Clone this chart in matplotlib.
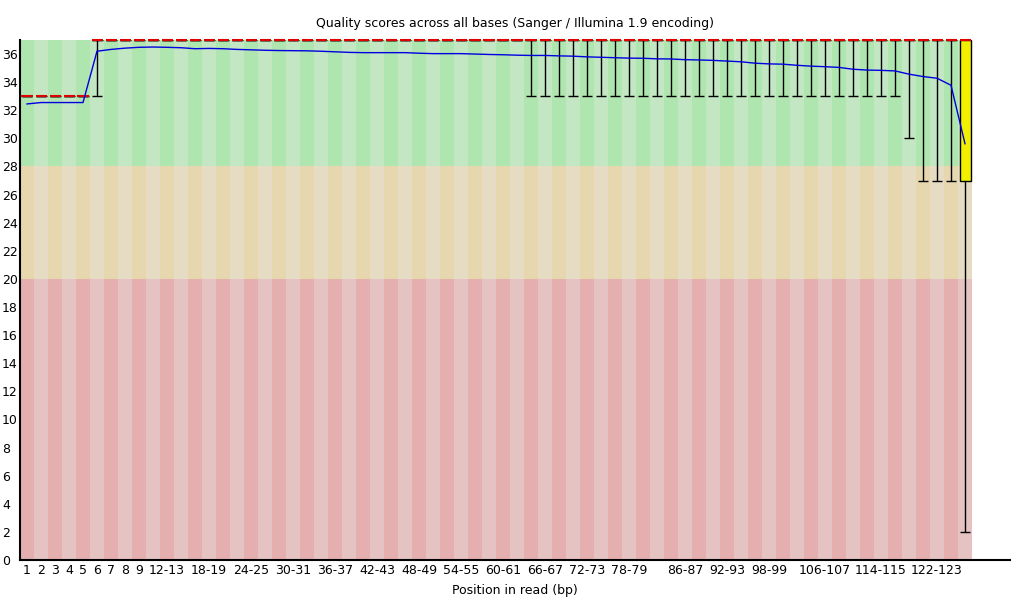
import matplotlib
matplotlib.use('Agg')
import matplotlib.pyplot as plt

positions = ['1', '2', '3', '4', '5', '6', '7', '8', '9',
             '10-11', '12-13', '14-15', '16-17', '18-19', '20-21', '22-23', '24-25',
             '26-27', '28-29', '30-31', '32-33', '34-35', '36-37', '38-39', '40-41',
             '42-43', '44-45', '46-47', '48-49', '50-51', '52-53', '54-55', '56-57',
             '58-59', '60-61', '62-63', '64-65', '66-67', '68-69', '70-71', '72-73',
             '74-75', '76-77', '78-79', '80-81', '82-83', '84-85', '86-87', '88-89',
             '90-91', '92-93', '94-95', '96-97', '98-99', '100-101', '102-103',
             '104-105', '106-107', '108-109', '110-111', '112-113', '114-115',
             '116-117', '118-119', '120-121', '122-123', '124-125', '126-127']

shown_labels = ['1', '2', '3', '4', '5', '6', '7', '8', '9', '12-13', '18-19', '24-25',
                '30-31', '36-37', '42-43', '48-49', '54-55', '60-61', '66-67', '72-73',
                '78-79', '86-87', '92-93', '98-99', '106-107', '114-115', '122-123']

mean_q = [32.45, 32.55, 32.55, 32.55, 32.55, 36.2, 36.33, 36.42, 36.48, 36.5,
          36.48, 36.45, 36.38, 36.4, 36.38, 36.33, 36.3, 36.27, 36.25, 36.24,
          36.23, 36.2, 36.16, 36.12, 36.1, 36.1, 36.1, 36.1, 36.06, 36.03,
          36.03, 36.03, 36.0, 35.97, 35.95, 35.92, 35.9, 35.9, 35.87, 35.85,
          35.8, 35.77, 35.74, 35.71, 35.7, 35.66, 35.65, 35.6, 35.58, 35.55,
          35.5, 35.45, 35.35, 35.3, 35.28, 35.2, 35.14, 35.1, 35.05, 34.92,
          34.86, 34.84, 34.8, 34.57, 34.4, 34.28, 33.78, 29.62]

median_q = [33] * 5 + [37] * 63
lower_q = [33] * 5 + [37] * 62 + [27]
upper_q = [33] * 5 + [37] * 63
p10 = [33] * 5 + [33] + [37] * 30 + [33] * 27 + [30] + [27, 27, 27] + [2]
p90 = [33] * 5 + [37] * 63

zones = [(0, 20, '#e6c3c3', '#e6afaf'),
         (20, 28, '#e6dcc3', '#e6d7af'),
         (28, 37, '#c3e6c3', '#afe6af')]

fig = plt.figure(figsize=(10.2, 6), dpi=100)
ax = fig.add_axes([20 / 1020, 40 / 600, 990 / 1020, 520 / 600])

n = len(positions)
xs = list(range(n))
for lo, hi, light, dark in zones:
    ax.bar(xs, [hi - lo] * n, bottom=lo, width=1, align='edge',
           color=[dark if i % 2 == 0 else light for i in xs], linewidth=0, zorder=0)

centers = [i + 0.5 for i in xs]
bw = 11 / 14
cw = 10.5 / 14

# whiskers
ax.vlines(centers, p10, lower_q, color='black', lw=1.0, zorder=2)
ax.vlines(centers, upper_q, p90, color='black', lw=1.0, zorder=2)
ax.hlines(p10, [c - cw / 2 for c in centers], [c + cw / 2 for c in centers],
          color='black', lw=1.0, zorder=2)
ax.hlines(p90, [c - cw / 2 for c in centers], [c + cw / 2 for c in centers],
          color='black', lw=1.0, zorder=2)

# boxes
ax.bar(centers, [u - l for u, l in zip(upper_q, lower_q)], bottom=lower_q, width=bw,
       color='#f0f000', edgecolor='black', linewidth=1.0, zorder=3)

# medians
ax.hlines(median_q, [c - bw / 2 for c in centers], [c + bw / 2 for c in centers],
          color='#e00000', lw=1.5, zorder=4, clip_on=False)

# mean
ax.plot(centers, mean_q, color='#0000e0', lw=1.0, zorder=5)

ax.set_xlim(0, 990 / 14)
ax.set_ylim(0, 37)
ax.set_yticks(range(0, 37, 2))
ax.tick_params(axis='y', length=0, pad=13, labelsize=9)
for lab in ax.get_yticklabels():
    lab.set_horizontalalignment('left')
ax.set_xticks([centers[positions.index(s)] for s in shown_labels])
ax.set_xticklabels(shown_labels)
ax.tick_params(axis='x', length=0, pad=3, labelsize=9)

for s in ['top', 'right']:
    ax.spines[s].set_visible(False)
ax.spines['left'].set_linewidth(1.5)
ax.spines['bottom'].set_linewidth(1.5)

ax.set_title('Quality scores across all bases (Sanger / Illumina 1.9 encoding)',
             fontsize=9, pad=9)
ax.set_xlabel('Position in read (bp)', fontsize=9, labelpad=5)

fig.savefig('out.png', dpi=100)
